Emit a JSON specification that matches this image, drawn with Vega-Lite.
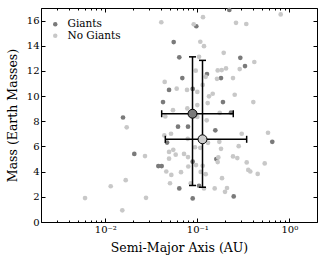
{
  "$schema": "https://vega.github.io/schema/vega-lite/v6.json",
  "width": 276,
  "height": 214,
  "autosize": {"type": "none"},
  "padding": {"left": 41, "top": 8, "right": 9, "bottom": 43},
  "background": "white",
  "config": {
    "view": {"stroke": "black", "strokeWidth": 1},
    "font": "DejaVu Serif",
    "axis": {"grid": false, "domainColor": "black", "tickColor": "black", "labelColor": "black", "titleColor": "black", "labelFont": "DejaVu Serif", "titleFont": "DejaVu Serif", "labelFontSize": 10, "titleFontSize": 12.5, "titleFontWeight": "normal"},
    "legend": {"labelFont": "DejaVu Serif", "labelFontSize": 10.5, "labelColor": "black"}
  },
  "datasets": {
    "pts": [
      {"a":0.0975,"m":15.55,"g":"Giants"},{"a":0.2228,"m":16.84,"g":"Giants"},{"a":0.0554,"m":14.29,"g":"Giants"},{"a":0.0637,"m":13.08,"g":"Giants"},{"a":0.2934,"m":13.04,"g":"Giants"},{"a":0.330,"m":12.39,"g":"Giants"},{"a":0.1274,"m":11.75,"g":"Giants"},{"a":0.0687,"m":11.43,"g":"Giants"},{"a":0.181,"m":11.43,"g":"Giants"},{"a":0.0493,"m":10.49,"g":"Giants"},{"a":0.0891,"m":10.57,"g":"Giants"},{"a":0.0424,"m":9.53,"g":"Giants"},{"a":0.190,"m":9.53,"g":"Giants"},{"a":0.0617,"m":7.57,"g":"Giants"},{"a":0.0792,"m":7.57,"g":"Giants"},{"a":0.01558,"m":8.30,"g":"Giants"},{"a":0.157,"m":7.28,"g":"Giants"},{"a":0.653,"m":6.37,"g":"Giants"},{"a":0.02066,"m":5.41,"g":"Giants"},{"a":0.0377,"m":4.44,"g":"Giants"},{"a":0.0410,"m":4.44,"g":"Giants"},{"a":0.161,"m":5.00,"g":"Giants"},{"a":0.0891,"m":4.79,"g":"Giants"},{"a":0.0637,"m":2.67,"g":"Giants"},{"a":0.1044,"m":2.88,"g":"Giants"},{"a":0.2487,"m":2.03,"g":"Giants"},{"a":0.0891,"m":1.87,"g":"Giants"},{"a":0.0469,"m":6.31,"g":"Giants"},{"a":0.2324,"m":8.70,"g":"Giants"},
      {"a":0.0406,"m":15.87,"g":"No Giants"},{"a":0.0914,"m":15.71,"g":"No Giants"},{"a":0.1153,"m":16.27,"g":"No Giants"},{"a":0.2634,"m":15.82,"g":"No Giants"},{"a":0.3407,"m":15.73,"g":"No Giants"},{"a":0.806,"m":16.49,"g":"No Giants"},{"a":0.1078,"m":14.32,"g":"No Giants"},{"a":0.1182,"m":13.97,"g":"No Giants"},{"a":0.1044,"m":13.12,"g":"No Giants"},{"a":0.1936,"m":13.44,"g":"No Giants"},{"a":0.4165,"m":12.71,"g":"No Giants"},{"a":0.289,"m":12.15,"g":"No Giants"},{"a":0.1666,"m":12.04,"g":"No Giants"},{"a":0.1842,"m":12.07,"g":"No Giants"},{"a":0.2051,"m":12.20,"g":"No Giants"},{"a":0.0961,"m":12.02,"g":"No Giants"},{"a":0.1234,"m":11.53,"g":"No Giants"},{"a":0.0442,"m":11.13,"g":"No Giants"},{"a":0.1637,"m":11.37,"g":"No Giants"},{"a":0.2443,"m":11.43,"g":"No Giants"},{"a":0.0597,"m":10.59,"g":"No Giants"},{"a":0.0773,"m":10.49,"g":"No Giants"},{"a":0.1,"m":10.33,"g":"No Giants"},{"a":0.1145,"m":10.89,"g":"No Giants"},{"a":0.147,"m":10.19,"g":"No Giants"},{"a":0.134,"m":9.98,"g":"No Giants"},{"a":0.255,"m":10.11,"g":"No Giants"},{"a":0.0779,"m":9.02,"g":"No Giants"},{"a":0.1,"m":9.29,"g":"No Giants"},{"a":0.1297,"m":9.45,"g":"No Giants"},{"a":0.4062,"m":9.53,"g":"No Giants"},{"a":0.0544,"m":8.88,"g":"No Giants"},{"a":0.0449,"m":8.38,"g":"No Giants"},{"a":0.1,"m":8.35,"g":"No Giants"},{"a":0.1265,"m":8.08,"g":"No Giants"},{"a":0.1752,"m":8.67,"g":"No Giants"},{"a":0.01708,"m":7.52,"g":"No Giants"},
      {"a":0.3039,"m":7.01,"g":"No Giants"},{"a":0.5869,"m":7.09,"g":"No Giants"},{"a":0.0438,"m":6.88,"g":"No Giants"},{"a":0.0518,"m":7.01,"g":"No Giants"},{"a":0.0787,"m":6.61,"g":"No Giants"},{"a":0.0944,"m":5.94,"g":"No Giants"},{"a":0.1078,"m":5.89,"g":"No Giants"},{"a":0.1735,"m":6.37,"g":"No Giants"},{"a":0.1307,"m":6.29,"g":"No Giants"},{"a":0.2818,"m":6.02,"g":"No Giants"},{"a":0.0548,"m":5.73,"g":"No Giants"},{"a":0.0493,"m":5.57,"g":"No Giants"},{"a":0.0582,"m":5.35,"g":"No Giants"},{"a":0.0493,"m":5.03,"g":"No Giants"},{"a":0.0717,"m":5.41,"g":"No Giants"},{"a":0.0792,"m":5.16,"g":"No Giants"},{"a":0.181,"m":5.81,"g":"No Giants"},{"a":0.1692,"m":5.13,"g":"No Giants"},{"a":0.2443,"m":5.21,"g":"No Giants"},{"a":0.2721,"m":5.08,"g":"No Giants"},{"a":0.3443,"m":4.73,"g":"No Giants"},{"a":0.5402,"m":4.65,"g":"No Giants"},{"a":0.0968,"m":4.52,"g":"No Giants"},{"a":0.0798,"m":4.41,"g":"No Giants"},{"a":0.046,"m":4.01,"g":"No Giants"},{"a":0.0522,"m":3.74,"g":"No Giants"},{"a":0.0665,"m":3.96,"g":"No Giants"},{"a":0.1089,"m":3.98,"g":"No Giants"},{"a":0.1234,"m":3.80,"g":"No Giants"},{"a":0.3582,"m":4.14,"g":"No Giants"},{"a":0.3767,"m":4.01,"g":"No Giants"},{"a":0.4534,"m":3.82,"g":"No Giants"},{"a":0.1856,"m":3.48,"g":"No Giants"},{"a":0.0505,"m":3.08,"g":"No Giants"},{"a":0.0848,"m":3.08,"g":"No Giants"},{"a":0.1182,"m":2.67,"g":"No Giants"},{"a":0.1545,"m":2.67,"g":"No Giants"},{"a":0.2103,"m":2.70,"g":"No Giants"},{"a":0.2,"m":2.40,"g":"No Giants"},{"a":0.027,"m":5.24,"g":"No Giants"},{"a":0.00602,"m":1.90,"g":"No Giants"},{"a":0.01145,"m":2.84,"g":"No Giants"},{"a":0.01666,"m":3.32,"g":"No Giants"},{"a":0.0277,"m":1.92,"g":"No Giants"},{"a":0.0153,"m":0.93,"g":"No Giants"},{"a":0.1145,"m":4.47,"g":"No Giants"},{"a":0.1666,"m":4.76,"g":"No Giants"}
    ],
    "means": [
      {"g":"Giants","a":0.0887,"m":8.60,"alo":0.041,"ahi":0.246,"mlo":2.90,"mhi":13.12},
      {"g":"No Giants","a":0.1139,"m":6.57,"alo":0.0449,"ahi":0.344,"mlo":2.76,"mhi":12.84}
    ]
  },
  "resolve": {"axis": {"x": "independent", "y": "independent"}},
  "layer": [
    {
      "data": {"name": "pts"},
      "mark": {"type": "point", "filled": true, "opacity": 1, "size": 22, "strokeWidth": 0},
      "encoding": {
        "x": {"field": "a", "type": "quantitative",
          "scale": {"type": "log", "domain": [0.002, 2], "nice": false},
          "axis": {"orient": "bottom", "title": "Semi-Major Axis (AU)",
            "values": [0.002,0.003,0.004,0.005,0.006,0.007,0.008,0.009,0.01,0.02,0.03,0.04,0.05,0.06,0.07,0.08,0.09,0.1,0.2,0.3,0.4,0.5,0.6,0.7,0.8,0.9,1,2],
            "labelExpr": "datum.value == 0.01 ? '10⁻²' : datum.value == 0.1 ? '10⁻¹' : datum.value == 1 ? '10⁰' : ''",
            "tickSize": {"condition": {"test": "indexof([0.01,0.1,1], datum.value) >= 0", "value": -4}, "value": -2},
            "labelPadding": 6, "titlePadding": 7, "domain": false, "labelFlush": false}},
        "y": {"field": "m", "type": "quantitative",
          "scale": {"domain": [0, 17], "nice": false, "zero": false},
          "axis": {"orient": "left", "title": "Mass (Earth Masses)", "values": [0,2,4,6,8,10,12,14,16],
            "tickSize": -4, "labelPadding": 6, "titlePadding": 7, "domain": false}},
        "color": {"field": "g", "type": "nominal",
          "scale": {"domain": ["Giants", "No Giants"], "range": ["#7a7a7a", "#c8c8c8"]},
          "legend": {"title": null, "orient": "none", "legendX": 9, "legendY": 11, "padding": 0, "symbolType": "circle", "symbolSize": 20, "rowPadding": 0.5, "labelOffset": 7}}
      }
    },
    {
      "data": {"name": "means"},
      "mark": {"type": "rule", "color": "black", "strokeWidth": 1.5},
      "encoding": {
        "x": {"field": "alo", "type": "quantitative", "scale": {"type": "log", "domain": [0.002, 2], "nice": false},
          "axis": {"orient": "top", "labels": false, "title": null, "domain": false,
            "values": [0.002,0.003,0.004,0.005,0.006,0.007,0.008,0.009,0.01,0.02,0.03,0.04,0.05,0.06,0.07,0.08,0.09,0.1,0.2,0.3,0.4,0.5,0.6,0.7,0.8,0.9,1,2],
            "tickSize": {"condition": {"test": "indexof([0.01,0.1,1], datum.value) >= 0", "value": -4}, "value": -2}}},
        "x2": {"field": "ahi"},
        "y": {"field": "m", "type": "quantitative",
          "axis": {"orient": "right", "labels": false, "title": null, "domain": false, "values": [0,2,4,6,8,10,12,14,16], "tickSize": -4}}
      }
    },
    {
      "data": {"name": "means"},
      "mark": {"type": "rule", "color": "black", "strokeWidth": 1.5},
      "encoding": {
        "x": {"field": "a", "type": "quantitative", "axis": null},
        "y": {"field": "mlo", "type": "quantitative", "axis": null},
        "y2": {"field": "mhi"}
      }
    },
    {
      "data": {"name": "means"},
      "mark": {"type": "point", "shape": "M0,-1L0,1", "size": 49, "stroke": "black", "strokeWidth": 1.5, "opacity": 1},
      "encoding": {"x": {"field": "alo", "type": "quantitative", "axis": null}, "y": {"field": "m", "type": "quantitative", "axis": null}}
    },
    {
      "data": {"name": "means"},
      "mark": {"type": "point", "shape": "M0,-1L0,1", "size": 49, "stroke": "black", "strokeWidth": 1.5, "opacity": 1},
      "encoding": {"x": {"field": "ahi", "type": "quantitative", "axis": null}, "y": {"field": "m", "type": "quantitative", "axis": null}}
    },
    {
      "data": {"name": "means"},
      "mark": {"type": "point", "shape": "M-1,0L1,0", "size": 49, "stroke": "black", "strokeWidth": 1.5, "opacity": 1},
      "encoding": {"x": {"field": "a", "type": "quantitative", "axis": null}, "y": {"field": "mlo", "type": "quantitative", "axis": null}}
    },
    {
      "data": {"name": "means"},
      "mark": {"type": "point", "shape": "M-1,0L1,0", "size": 49, "stroke": "black", "strokeWidth": 1.5, "opacity": 1},
      "encoding": {"x": {"field": "a", "type": "quantitative", "axis": null}, "y": {"field": "mhi", "type": "quantitative", "axis": null}}
    },
    {
      "data": {"name": "means"},
      "mark": {"type": "point", "filled": true, "size": 80, "stroke": "black", "strokeWidth": 1, "opacity": 1},
      "encoding": {
        "x": {"field": "a", "type": "quantitative", "axis": null},
        "y": {"field": "m", "type": "quantitative", "axis": null},
        "fill": {"field": "g", "type": "nominal", "scale": {"domain": ["Giants", "No Giants"], "range": ["#7a7a7a", "#cccccc"]}, "legend": null}
      }
    }
  ]
}
